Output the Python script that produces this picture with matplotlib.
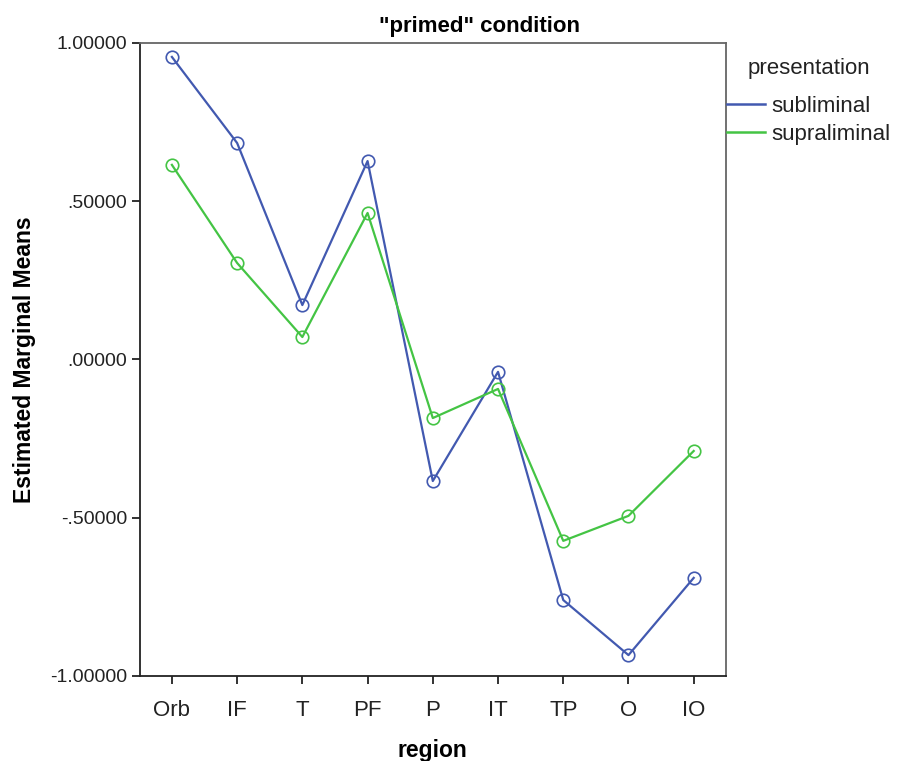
import numpy as np
import matplotlib
matplotlib.use("Agg")
import matplotlib.pyplot as plt
from matplotlib.ticker import FuncFormatter

# DATA
regions = ["Orb", "IF", "T", "PF", "P", "IT", "TP", "O", "IO"]
subliminal = [0.956, 0.684, 0.172, 0.627, -0.384, -0.039, -0.760, -0.934, -0.690]
supraliminal = [0.615, 0.305, 0.071, 0.463, -0.185, -0.093, -0.573, -0.494, -0.289]
yticks = [-1.0, -0.5, 0.0, 0.5, 1.0]

plt.rcParams["font.family"] = ["Liberation Sans", "DejaVu Sans"]

blue = "#4259B0"
green = "#44C444"

fig = plt.figure(figsize=(8.97, 7.61), dpi=100)
ax = fig.add_axes([0.156, 0.1117, 0.653, 0.8318])

x = np.arange(len(regions))
l1, = ax.plot(x, subliminal, color=blue, linewidth=1.6, marker="o", markersize=9,
              markerfacecolor="none", markeredgecolor=blue, markeredgewidth=1.2, label="subliminal")
l2, = ax.plot(x, supraliminal, color=green, linewidth=1.6, marker="o", markersize=9,
              markerfacecolor="none", markeredgecolor=green, markeredgewidth=1.2, label="supraliminal")

ax.set_xlim(-0.49, 8.49)
ax.set_ylim(-1.0, 1.0)
ax.set_xticks(x)
ax.set_xticklabels(regions)
ax.set_yticks(yticks)


def fmt(v, pos):
    s = "%.5f" % v
    if s.startswith("0."):
        s = s[1:]
    elif s.startswith("-0."):
        s = "-" + s[2:]
    return s


ax.yaxis.set_major_formatter(FuncFormatter(fmt))
ax.tick_params(direction="out", length=6, width=1.3, colors="#222222", pad=3)
ax.tick_params(axis="y", labelsize=14)
ax.tick_params(axis="x", labelsize=16, pad=11)
for side in ["left", "bottom"]:
    ax.spines[side].set_color("#222222")
    ax.spines[side].set_linewidth(1.3)
for side in ["top", "right"]:
    ax.spines[side].set_color("#666666")
    ax.spines[side].set_linewidth(1.3)

ax.set_title('"primed" condition', fontsize=16, fontweight="bold", pad=8, x=0.58)
ax.set_xlabel("region", fontsize=16.5, fontweight="bold", labelpad=13)
ax.set_ylabel("Estimated Marginal Means", fontsize=16.5, fontweight="bold", labelpad=10)

leg = ax.legend(handles=[l1, l2], labels=["subliminal", "supraliminal"], title="presentation",
                loc="upper left", bbox_to_anchor=(1.002, 0.976), frameon=False,
                fontsize=16, title_fontsize=16, handlelength=1.7, handletextpad=0.32,
                labelspacing=0.3, borderaxespad=0.0, borderpad=0.0)
leg._legend_box.sep = 12
for h in leg.legend_handles:
    h.set_marker("")
    h.set_linewidth(1.8)
leg.get_title().set_color("#222222")
for t in leg.get_texts():
    t.set_color("#222222")

fig.savefig("out.png", dpi=100)
